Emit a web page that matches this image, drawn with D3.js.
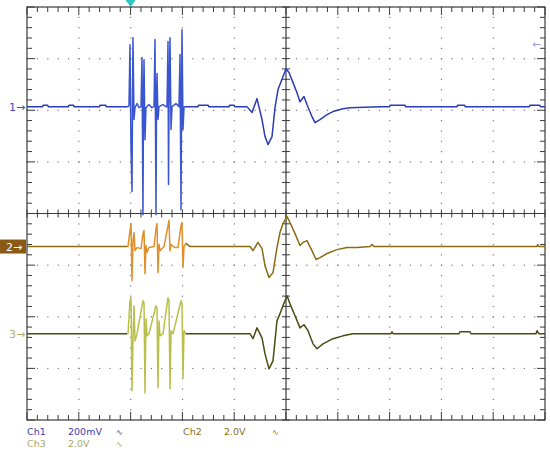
<!DOCTYPE html>
<html><head><meta charset="utf-8">
<script src="https://cdn.jsdelivr.net/npm/d3@7"></script>
<style>html,body{margin:0;padding:0;background:#fff;}svg{display:block}</style>
</head><body><svg id="c" width="550" height="451"></svg>
<script>
// time in screen divisions, ch1 in mV, ch2/ch3 in V
const ch1Trace = [[-5.000,0],[-4.700,0],[-4.690,5],[-4.600,5],[-4.590,0],[-4.200,0],[-4.190,5],[-4.100,5],[-4.090,0],[-3.600,0],[-3.590,5],[-3.480,5],[-3.470,0],[-3.050,0],
[-3.031,4],[-3.012,240],[-2.992,-167],[-2.973,-329],[-2.963,27],[-2.954,267],[-2.934,-50],[-2.915,-4],[-2.876,12],[-2.838,-4],[-2.799,0],
[-2.780,190],[-2.761,-419],[-2.751,27],[-2.741,182],[-2.722,-128],[-2.703,-4],[-2.645,8],[-2.587,-4],[-2.548,0],
[-2.529,260],[-2.510,-419],[-2.500,27],[-2.490,128],[-2.471,-50],[-2.452,0],[-2.375,8],[-2.317,0],
[-2.297,0],[-2.278,252],[-2.268,-302],[-2.259,-12],[-2.239,267],[-2.220,-89],[-2.201,0],[-2.124,12],[-2.066,0],
[-2.046,202],[-2.027,-399],[-2.017,-12],[-2.008,298],[-1.988,-89],[-1.969,0],[-1.700,0],[-1.690,5],[-1.500,5],[-1.490,0],[-1.100,0],[-1.090,5],[-1.000,5],[-0.990,0],
[-0.753,0],[-0.656,-23],[-0.560,31],[-0.463,-50],[-0.405,-116],[-0.347,-147],[-0.270,-116],[-0.212,-4],[-0.154,66],[-0.058,116],[0,147],[0.058,132],[0.135,93],[0.212,54],[0.270,19],[0.347,39],[0.405,8],[0.502,-39],[0.560,-62],[0.656,-50],[0.792,-31],[0.907,-19],[1.100,-8],[1.236,-4],[1.815,0],[2.000,0],[2.010,5],[2.300,5],[2.310,0],[3.300,0],[3.310,5],[3.450,5],[3.460,0],[4.700,0],[4.710,5],[4.900,5],[4.910,0],[5.000,0]];
const ch2Trace = [[-5,0],[-3.050,0],
[-3.012,0.62],[-2.992,0.89],[-2.973,-1.32],[-2.954,0.23],[-2.934,0.54],[-2.915,-0.16],[-2.876,-0.04],[-2.799,-0.08],
[-2.761,0.50],[-2.741,0.62],[-2.722,-1.05],[-2.703,0.04],[-2.683,-0.23],[-2.645,-0.04],[-2.548,0],
[-2.510,0.70],[-2.490,0.89],[-2.471,-1.01],[-2.452,0.08],[-2.432,-0.16],[-2.355,0],
[-2.278,0.81],[-2.259,1.01],[-2.239,-0.16],[-2.220,0.08],[-2.143,-0.04],[-2.085,-0.04],
[-2.027,0.81],[-2.008,0.93],[-1.988,-0.81],[-1.969,0],[-1.931,0.12],[-1.853,0],
[-0.695,0],[-0.637,-0.16],[-0.541,0.16],[-0.463,-0.08],[-0.405,-0.74],[-0.328,-1.20],[-0.251,-1.01],[-0.174,-0.04],[-0.116,0.54],[-0.058,0.89],[0.019,1.16],[0.077,0.93],[0.174,0.50],[0.270,0.04],[0.328,0.16],[0.405,0.23],[0.502,-0.16],[0.579,-0.50],[0.656,-0.43],[0.792,-0.27],[0.985,-0.12],[1.178,-0.04],[1.371,-0.04],[1.622,0],[1.660,0.08],[1.699,0],[4.840,0],[4.860,0.08],[4.880,0],[5,0]];
const ch3Trace = [[-5,0],[-3.050,0],
[-3.012,1.28],[-2.992,1.40],[-2.973,-2.21],[-2.954,-0.27],[-2.934,1.09],[-2.915,-0.27],[-2.876,0],
[-2.761,1.28],[-2.741,1.20],[-2.722,-2.29],[-2.703,0.58],[-2.683,-0.08],[-2.645,0],
[-2.510,1.09],[-2.490,0.97],[-2.471,-2.09],[-2.452,0.50],[-2.432,-0.08],[-2.375,0],
[-2.278,1.40],[-2.259,1.28],[-2.239,-2.13],[-2.220,0.12],[-2.181,0],
[-2.027,1.28],[-2.008,1.16],[-1.988,-1.71],[-1.969,0.12],[-1.931,0],
[-0.695,0],[-0.637,-0.19],[-0.560,0.23],[-0.463,-0.16],[-0.405,-0.78],[-0.328,-1.36],[-0.251,-1.05],[-0.174,0.50],[-0.116,0.78],[-0.058,1.09],[0.019,1.47],[0.077,1.16],[0.174,0.70],[0.270,0.23],[0.347,0.35],[0.425,0.12],[0.521,-0.39],[0.598,-0.58],[0.714,-0.39],[0.907,-0.19],[1.100,-0.08],[1.293,0],
[2.027,0],[2.046,0.08],[2.066,0],[3.340,0],[3.359,0.08],[3.552,0.08],[3.571,0],[4.826,0],[4.846,0.12],[4.884,0],[5,0]];

const channelNames = ["Ch1","Ch2","Ch3"];
const scaleLabels = ["200mV","2.0V","2.0V"];
const perDiv = [200, 2.0, 2.0];          // units per division
const offsetDiv = [2.07, -0.64, -2.33];  // baseline position in divisions
const triggerTime = -3.0;
const burstRange = [-3.07, -1.93];

const svg = d3.select("#c");
const x = d3.scaleLinear().domain([-5,5]).range([27,545]);
const y = d3.scaleLinear().domain([-4,4]).range([420,7]);

// dotted grid
const g = svg.append("g");
const minor = d3.range(-25, 26).map(i => i/5);
const minorY = d3.range(-20, 21).map(i => i/5);
[-4,-3,-2,-1,1,2,3,4].forEach(v => {
  minorY.forEach(u => g.append("rect").attr("x", x(v)-0.5).attr("y", y(u)-0.5).attr("width",1.2).attr("height",1.2).attr("fill","#777"));
});
[-3,-2,-1,1,2,3].forEach(h => {
  minor.forEach(u => g.append("rect").attr("x", x(u)-0.5).attr("y", y(h)-0.5).attr("width",1.2).attr("height",1.2).attr("fill","#777"));
});

// border
const axc = "#3a3a3a";
g.append("rect").attr("x", x(-5)).attr("y", y(4)).attr("width", x(5)-x(-5)).attr("height", y(-4)-y(4))
  .attr("fill","none").attr("stroke",axc).attr("stroke-width",1.2);
minor.forEach(u => {
  const L = Number.isInteger(u) ? 8 : 5;
  g.append("line").attr("x1",x(u)).attr("x2",x(u)).attr("y1",y(4)).attr("y2",y(4)+L).attr("stroke",axc);
  g.append("line").attr("x1",x(u)).attr("x2",x(u)).attr("y1",y(-4)).attr("y2",y(-4)-L).attr("stroke",axc);
  g.append("line").attr("x1",x(u)).attr("x2",x(u)).attr("y1",y(0)-4).attr("y2",y(0)+4).attr("stroke",axc);
});
minorY.forEach(u => {
  const L = Number.isInteger(u) ? 8 : 5;
  g.append("line").attr("y1",y(u)).attr("y2",y(u)).attr("x1",x(-5)).attr("x2",x(-5)+L).attr("stroke",axc);
  g.append("line").attr("y1",y(u)).attr("y2",y(u)).attr("x1",x(5)).attr("x2",x(5)-L).attr("stroke",axc);
  g.append("line").attr("y1",y(u)).attr("y2",y(u)).attr("x1",x(0)-4).attr("x2",x(0)+4).attr("stroke",axc);
});
g.append("line").attr("x1",x(0)).attr("x2",x(0)).attr("y1",y(4)).attr("y2",y(-4)).attr("stroke",axc).attr("stroke-width",1.2);
g.append("line").attr("x1",x(-5)).attr("x2",x(5)).attr("y1",y(0)).attr("y2",y(0)).attr("stroke",axc).attr("stroke-width",1.2);

// gradients to lighten burst region
const defs = svg.append("defs");
const traceStyles = [
  {base:"#2a3cb4", burst:"#3a55d0"},
  {base:"#8c6a12", burst:"#e0902a"},
  {base:"#4a4a12", burst:"#b8c04a"}
];
traceStyles.forEach((s,i) => {
  const lg = defs.append("linearGradient").attr("id","gr"+i).attr("gradientUnits","userSpaceOnUse")
    .attr("x1", x(-5)).attr("x2", x(5)).attr("y1",0).attr("y2",0);
  const f0 = (x(burstRange[0])-x(-5))/(x(5)-x(-5)), f1 = (x(burstRange[1])-x(-5))/(x(5)-x(-5));
  lg.append("stop").attr("offset",0).attr("stop-color",s.base);
  lg.append("stop").attr("offset",f0).attr("stop-color",s.base);
  lg.append("stop").attr("offset",f0).attr("stop-color",s.burst);
  lg.append("stop").attr("offset",f1).attr("stop-color",s.burst);
  lg.append("stop").attr("offset",f1).attr("stop-color",s.base);
  lg.append("stop").attr("offset",1).attr("stop-color",s.base);
});

const traces = [ch1Trace, ch2Trace, ch3Trace];
traces.forEach((tr, i) => {
  const line = d3.line().x(d => x(d[0])).y(d => y(offsetDiv[i] + d[1]/perDiv[i]));
  svg.append("path").attr("d", line(tr)).attr("fill","none")
    .attr("stroke","url(#gr"+i+")").attr("stroke-width", 1.5).attr("stroke-linejoin","round");
});

// channel markers
const font = "DejaVu Sans, sans-serif";
svg.append("text").attr("x",9).attr("y",y(offsetDiv[0])+4).attr("font-family",font).attr("font-size",11)
  .attr("fill","#3a4ab8").text("1\u2192");
svg.append("rect").attr("x",0).attr("y",y(offsetDiv[1])-7).attr("width",26).attr("height",14).attr("fill","#8a5a14");
svg.append("text").attr("x",6).attr("y",y(offsetDiv[1])+4).attr("font-family",font).attr("font-size",11)
  .attr("fill","#fff").text("2\u2192");
svg.append("text").attr("x",9).attr("y",y(offsetDiv[2])+4).attr("font-family",font).attr("font-size",11)
  .attr("fill","#b0b070").text("3\u2192");

// trigger marker
const tx = x(triggerTime);
svg.append("path").attr("d",`M${tx-5},0 L${tx+5},0 L${tx},7 Z`).attr("fill","#30c4c4");
svg.append("text").attr("x",532).attr("y",48).attr("font-family",font).attr("font-size",11).attr("fill","#a0a0e0").text("\u2190");

// bottom readout
const readout = [
  {c:0, x:27, y:435, col:"#3c3cb0"},
  {c:1, x:183, y:435, col:"#8a7020"},
  {c:2, x:27, y:447, col:"#a8a870"}
];
readout.forEach(r => {
  const t = svg.append("g").attr("font-family",font).attr("font-size",9.5).attr("fill",r.col);
  t.append("text").attr("x",r.x).attr("y",r.y).text(channelNames[r.c]);
  t.append("text").attr("x",r.x+41).attr("y",r.y).text(scaleLabels[r.c]);
  t.append("text").attr("x",r.x+89).attr("y",r.y).attr("font-size",8).text("\u223F");
});
</script></body></html>
